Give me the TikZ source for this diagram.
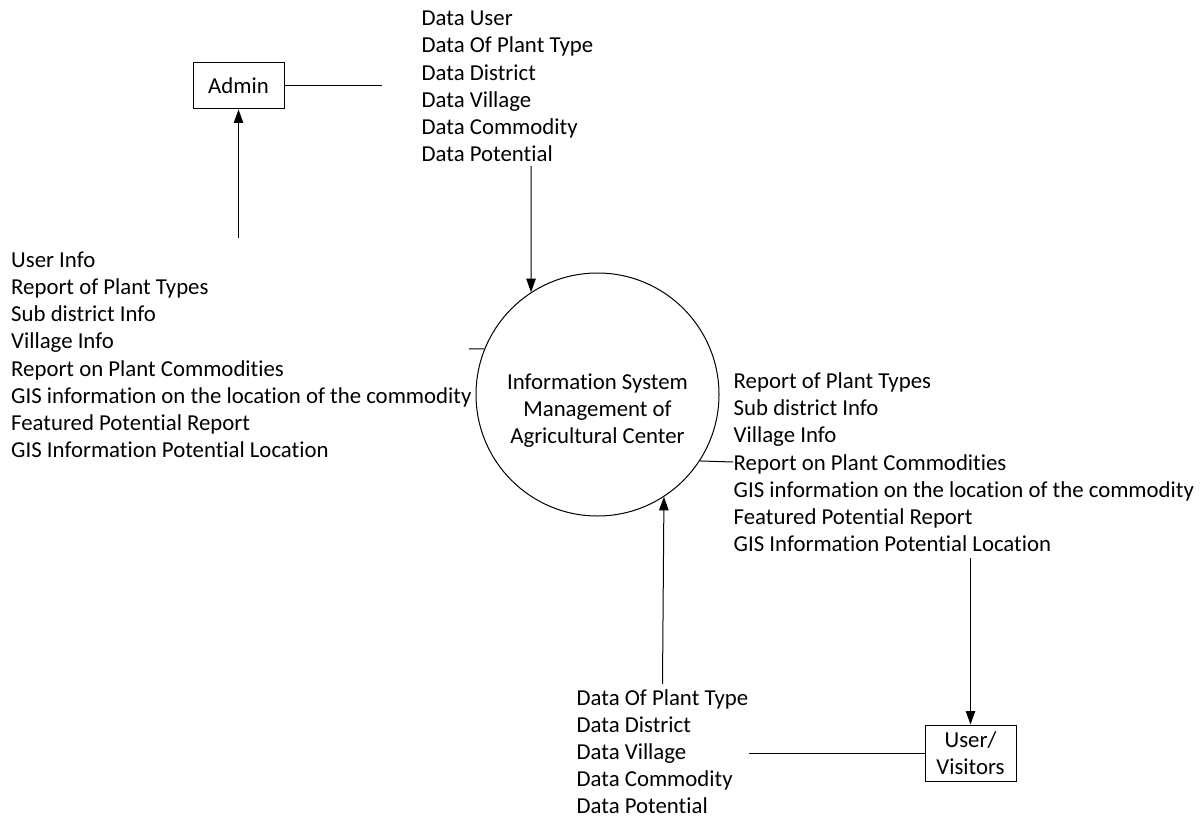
\documentclass[tikz,border=0pt]{standalone}
\usepackage{fontspec}
\setmainfont{Carlito}[Ligatures={NoCommon}]
\usetikzlibrary{arrows.meta}
\newcommand\dfdfont{\fontsize{22.8}{27.2}\selectfont}
\begin{document}
\begin{tikzpicture}[x=1pt,y=-1pt,
  every node/.style={font=\dfdfont},
  lbl/.style={anchor=base west,inner sep=0pt},
  ent/.style={draw,line width=1pt,inner sep=0pt,minimum width=91pt,align=center},
  conn/.style={line width=1pt,black},
  arr/.style={conn,-{Triangle[length=13.5pt,width=9.5pt]}}]
\useasboundingbox (0,0) rectangle (1201,818);
% entities
\node[ent,minimum height=46pt] (adm) at (238.5,86) {Admin};
\node[ent,minimum height=56pt] (usr) at (970.5,753) {User/\\Visitors};
\node[draw,circle,line width=1pt,minimum size=243pt,inner sep=0pt] (sys) at (597.5,394.5) {};
\node[align=center,inner sep=0pt] (systxt) at (597.5,410.5) {Information System\\Management of\\Agricultural Center};
% labels
\foreach [count=\i] \t in {Data User,Data Of Plant Type,Data District,Data Village,Data Commodity,Data Potential}
  \node[lbl] (t\i) at (421.5,{25.7+27.2*(\i-1)}) {\t};
\foreach [count=\i] \t in {User Info,Report of Plant Types,Sub district Info,Village Info,Report on Plant Commodities,GIS information on the location of the commodity,Featured Potential Report,GIS Information Potential Location}
  \node[lbl] (l\i) at (11,{267.3+27.2*(\i-1)}) {\t};
\foreach [count=\i] \t in {Report of Plant Types,Sub district Info,Village Info,Report on Plant Commodities,GIS information on the location of the commodity,Featured Potential Report,GIS Information Potential Location}
  \node[lbl] (r\i) at (733.5,{388.5+27.2*(\i-1)}) {\t};
\foreach [count=\i] \t in {Data Of Plant Type,Data District,Data Village,Data Commodity,Data Potential}
  \node[lbl] (b\i) at (576.5,{705.5+27*(\i-1)}) {\t};
% free ends
\coordinate (c1) at (382,86);
\coordinate (c2) at (238.5,238);
\coordinate (c3) at (531,166);
\coordinate (c4) at (469,349);
\coordinate (c5) at (733,462);
\coordinate (c6) at (970.5,558);
\coordinate (c7) at (662.5,684);
\coordinate (c8) at (749,753);
% connectors
\draw[conn] (adm.east) -- (c1);
\draw[arr] (c2) -- (adm.south);
\draw[arr] (c3) -- (sys.123.2);
\draw[conn] (c4) -- (sys.158);
\draw[conn] (sys.-33.7) -- (c5);
\draw[arr] (c6) -- (usr.north);
\draw[arr] (c7) -- (sys.-57.6);
\draw[conn] (c8) -- (usr.west);
\end{tikzpicture}
\end{document}
